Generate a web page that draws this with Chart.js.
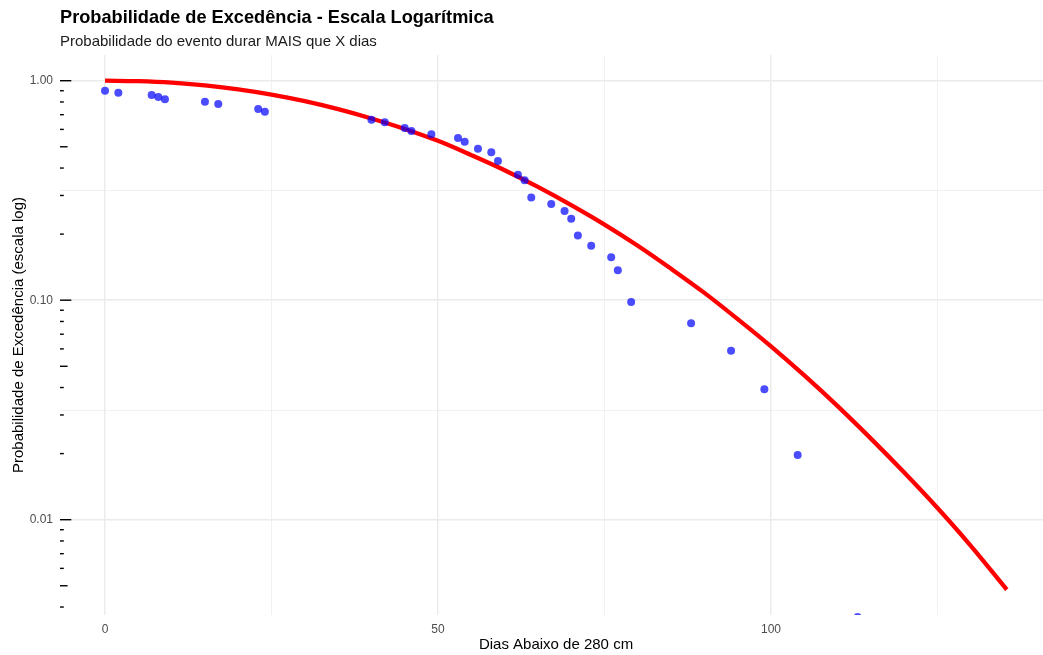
<!DOCTYPE html>
<html><head><meta charset="utf-8">
<script src="https://cdn.jsdelivr.net/npm/chart.js@4.4.0/dist/chart.umd.min.js"></script>
<style>
html,body{margin:0;padding:0;background:#fff;overflow:hidden;}
#wrap{position:relative;width:1043px;height:655px;overflow:hidden;background:#fff;}
#c{position:absolute;left:0;top:0;width:1056px;height:655px;}
.t{position:absolute;left:60px;white-space:nowrap;font-family:"Liberation Sans",Arial,sans-serif;}
#title{top:8px;font-size:18.2px;line-height:18px;font-weight:bold;color:#000;}
#sub{top:33px;font-size:15px;line-height:15px;color:#1a1a1a;}
</style></head><body>
<div id="wrap">
<canvas id="c" width="1056" height="655"></canvas>
<div class="t" id="title">Probabilidade de Excedência - Escala Logarítmica</div>
<div class="t" id="sub">Probabilidade do evento durar MAIS que X dias</div>
</div>
<script>
// Observed exceedance probabilities
const diasObs  = [0, 2, 7, 8, 9, 15, 17, 23, 24, 40, 42, 45, 46, 49, 53, 54, 56, 58, 59, 62, 63, 64, 67, 69, 70, 71, 73, 76, 77, 79, 88, 94, 99, 104, 113];
const probObs  = [0.90, 0.882, 0.861, 0.843, 0.823, 0.802, 0.783, 0.743, 0.722, 0.664, 0.646, 0.609, 0.590, 0.570, 0.548, 0.527, 0.490, 0.472, 0.431, 0.373, 0.352, 0.294, 0.274, 0.255, 0.235, 0.197, 0.177, 0.157, 0.137, 0.098, 0.0785, 0.0589, 0.0393, 0.0197, 0.0036];
// Fitted curve
const diasCurva = [0, 5, 10, 15, 20, 25, 30, 35, 40, 45, 50, 55, 60, 65, 70, 75, 80, 85, 90, 95, 100, 105, 110, 115, 120, 125, 130, 135.4];
const probCurva = [1.0, 0.995, 0.980, 0.952, 0.914, 0.865, 0.807, 0.742, 0.673, 0.603, 0.532, 0.458, 0.391, 0.328, 0.271, 0.221, 0.177, 0.139, 0.108, 0.082, 0.0616, 0.0454, 0.0329, 0.0234, 0.0164, 0.0113, 0.0076, 0.0048];
// Axes
const xGrid   = [0, 25, 50, 75, 100, 125];
const xLabels = [0, 50, 100];
const yGrid   = [0.01, 0.0316, 0.1, 0.316, 1];
const yLabels = [0.01, 0.1, 1];
const logTickValues = [0.004,0.005,0.006,0.007,0.008,0.009,0.01,0.02,0.03,0.04,0.05,0.06,0.07,0.08,0.09,0.1,0.2,0.3,0.4,0.5,0.6,0.7,0.8,0.9,1];
const xMin = -6.76, xMax = 142.19;
const yMin = 0.003679, yMax = 1.3095;

const FAM = '"Liberation Sans", Arial, sans-serif';
const near = (arr, v) => arr.some(a => Math.abs(a - v) / a < 1e-6);

const logTicksPlugin = {
  id: 'logticks',
  afterDatasetsDraw(chart) {
    const y = chart.scales.y, area = chart.chartArea, ctx = chart.ctx;
    ctx.save();
    ctx.strokeStyle = '#000';
    ctx.lineWidth = 1.4;
    logTickValues.forEach(v => {
      const p = y.getPixelForValue(v);
      if (p < area.top || p > area.bottom) return;
      const lead = Math.round(v / Math.pow(10, Math.floor(Math.log10(v) + 1e-9)));
      const len = lead === 1 ? 11.3 : (lead === 5 ? 7.6 : 3.8);
      ctx.beginPath();
      ctx.moveTo(area.left, p);
      ctx.lineTo(area.left + len, p);
      ctx.stroke();
    });
    ctx.restore();
  }
};

new Chart(document.getElementById('c'), {
  type: 'scatter',
  data: {
    datasets: [
      {
        type: 'scatter', label: 'Observado',
        data: diasObs.map((d, i) => ({x: d, y: probObs[i]})),
        backgroundColor: 'rgba(0,0,255,0.7)', borderWidth: 0,
        pointRadius: 4, pointHoverRadius: 4, clip: 0, order: 0
      },
      {
        type: 'line', label: 'Ajuste',
        data: diasCurva.map((d, i) => ({x: d, y: probCurva[i]})),
        borderColor: '#ff0000', borderWidth: 4.3, pointRadius: 0, fill: false,
        cubicInterpolationMode: 'monotone', borderCapStyle: 'butt', borderJoinStyle: 'round',
        order: 1, clip: 4
      }
    ]
  },
  options: {
    responsive: false, animation: false, devicePixelRatio: 1,
    layout: {padding: {top: 55, left: 0, right: 0, bottom: 0}},
    plugins: {legend: {display: false}, tooltip: {enabled: false}, title: {display: false}},
    scales: {
      x: {
        type: 'linear', min: xMin, max: xMax,
        afterFit(s) { s.height = 40; },
        afterBuildTicks(s) { s.ticks = xGrid.map(v => ({value: v})); },
        ticks: {
          autoSkip: false, maxRotation: 0, padding: 7, color: '#4d4d4d',
          font: {family: FAM, size: 12},
          callback: (v) => xLabels.includes(v) ? String(v) : ''
        },
        grid: {
          drawTicks: false, color: '#ebebeb',
          lineWidth: (c) => (c.tick && xLabels.includes(c.tick.value)) ? 1.4 : 0.7
        },
        border: {display: false},
        title: {display: true, text: 'Dias Abaixo de 280 cm', color: '#000',
                font: {family: FAM, size: 15}, padding: {top: 0, bottom: 1}}
      },
      y: {
        type: 'logarithmic', min: yMin, max: yMax,
        afterFit(s) { s.width = 60; },
        afterBuildTicks(s) { s.ticks = yGrid.map(v => ({value: v})); },
        ticks: {
          autoSkip: false, padding: 7, color: '#4d4d4d',
          font: {family: FAM, size: 12},
          callback: (v) => near(yLabels, v) ? Number(v).toFixed(2) : ''
        },
        grid: {
          drawTicks: false, color: '#ebebeb',
          lineWidth: (c) => (c.tick && near(yLabels, c.tick.value)) ? 1.4 : 0.7
        },
        border: {display: false},
        title: {display: true, text: 'Probabilidade de Excedência (escala log)', color: '#000',
                font: {family: FAM, size: 15}, padding: {top: 10, bottom: 0}}
      }
    }
  },
  plugins: [logTicksPlugin]
});
</script>
</body></html>
